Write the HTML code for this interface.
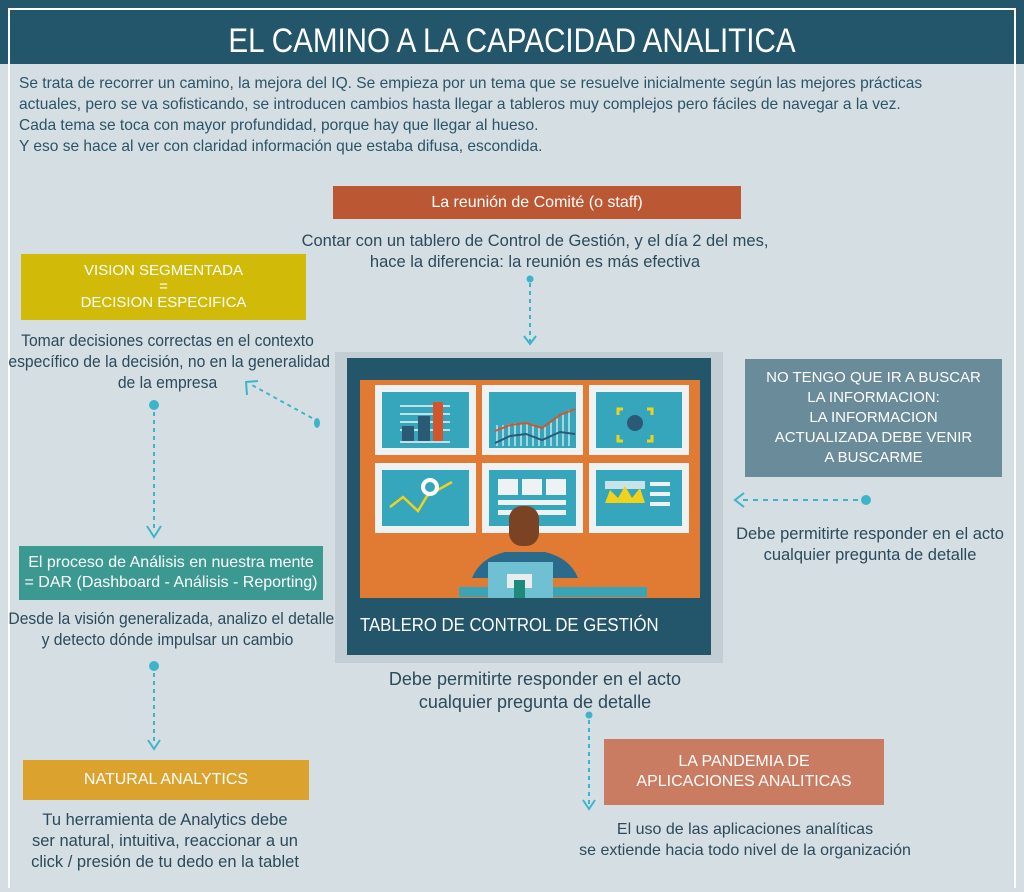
<!DOCTYPE html>
<html><head><meta charset="utf-8"><style>
body{margin:0;width:1024px;height:892px;background:#d5dee3;position:relative;overflow:hidden;font-family:"Liberation Sans",sans-serif;color:#2b4a5b}
.a{position:absolute}
.box{position:absolute;color:#fff;text-align:center;display:flex;align-items:center;justify-content:center;font-size:15px;line-height:20px}
.t{position:absolute;text-align:center;font-size:16.5px;line-height:21px;white-space:nowrap}
</style></head><body>
<div class="a" style="left:0;top:0;width:1024px;height:64px;background:#24566b"></div>
<div class="a" style="left:8px;top:8px;width:1004px;height:878px;border:2px solid #fff;border-bottom:none"></div>
<div class="a" style="left:0;top:16px;width:1024px;text-align:center;color:#fff;font-size:34px;line-height:50px;transform:scaleX(0.87)">EL CAMINO A LA CAPACIDAD ANALITICA</div>
<div class="a" style="left:19px;top:73px;font-size:16px;line-height:21px;color:#2b5468;white-space:nowrap;transform:scaleX(0.97);transform-origin:left top">Se trata de recorrer un camino, la mejora del IQ. Se empieza por un tema que se resuelve inicialmente según las mejores prácticas<br>actuales, pero se va sofisticando, se introducen cambios hasta llegar a tableros muy complejos pero fáciles de navegar a la vez.<br>Cada tema se toca con mayor profundidad, porque hay que llegar al hueso.<br>Y eso se hace al ver con claridad información que estaba difusa, escondida.</div>

<div class="box" style="left:333px;top:186px;width:408px;height:33px;background:#bb5732;font-size:16px">La reunión de Comité (o staff)</div>
<div class="t" style="left:280px;top:231px;width:510px">Contar con un tablero de Control de Gestión, y el día 2 del mes,<br>hace la diferencia: la reunión es más efectiva</div>

<div class="box" style="left:21px;top:254px;width:285px;height:66px;background:#d1ba08;line-height:16px">VISION SEGMENTADA<br>=<br>DECISION ESPECIFICA</div>
<div class="t" style="left:0;top:331px;width:335px;transform:scaleX(0.95)">Tomar decisiones correctas en el contexto<br>específico de la decisión, no en la generalidad<br>de la empresa</div>

<div class="box" style="left:745px;top:359px;width:257px;height:118px;background:#6a8b99;line-height:20px">NO TENGO QUE IR A BUSCAR<br>LA INFORMACION:<br>LA INFORMACION<br>ACTUALIZADA DEBE VENIR<br>A BUSCARME</div>
<div class="t" style="left:730px;top:524px;width:280px">Debe permitirte responder en el acto<br>cualquier pregunta de detalle</div>

<div class="box" style="left:19px;top:546px;width:304px;height:54px;background:#3c9992;font-size:16px">El proceso de Análisis en nuestra mente<br>= DAR (Dashboard - Análisis - Reporting)</div>
<div class="t" style="left:0;top:609px;width:335px;transform:scaleX(0.95)">Desde la visión generalizada, analizo el detalle<br>y detecto dónde impulsar un cambio</div>

<div class="box" style="left:23px;top:760px;width:286px;height:40px;background:#dca22e;font-size:16px">NATURAL ANALYTICS</div>
<div class="t" style="left:10px;top:810px;width:310px">Tu herramienta de Analytics debe<br>ser natural, intuitiva, reaccionar a un<br>click / presión de tu dedo en la tablet</div>

<div class="box" style="left:604px;top:739px;width:280px;height:66px;background:#c97c61;font-size:16px">LA PANDEMIA DE<br>APLICACIONES ANALITICAS</div>
<div class="t" style="left:570px;top:819px;width:350px;font-size:16px">El uso de las aplicaciones analíticas<br>se extiende hacia todo nivel de la organización</div>

<div class="t" style="left:360px;top:668px;width:350px;font-size:18px;line-height:23px">Debe permitirte responder en el acto<br>cualquier pregunta de detalle</div>

<!-- central image -->
<div class="a" style="left:335px;top:352px;width:388px;height:311px;background:#c3ced4"></div>
<div class="a" style="left:347px;top:358px;width:364px;height:297px;background:#24566b"></div>
<div class="a" style="left:360px;top:380px;width:340px;height:218px;background:#e17a33"></div>
<svg class="a" style="left:360px;top:380px" width="340" height="218">
<g fill="#eef2f3">
<rect x="15" y="5" width="101" height="70"/><rect x="122" y="5" width="101" height="70"/><rect x="229" y="5" width="100" height="70"/>
<rect x="15" y="83" width="101" height="70"/><rect x="122" y="83" width="101" height="70"/><rect x="229" y="83" width="100" height="70"/>
</g>
<g fill="#36a6bc">
<rect x="22" y="12" width="87" height="56"/><rect x="129" y="12" width="87" height="56"/><rect x="236" y="12" width="86" height="56"/>
<rect x="22" y="90" width="87" height="56"/><rect x="129" y="90" width="87" height="56"/><rect x="236" y="90" width="86" height="56"/>
</g>
<g stroke="#eef2f3" stroke-width="1.5"><line x1="40" y1="26" x2="90" y2="26"/><line x1="40" y1="34" x2="90" y2="34"/><line x1="40" y1="42" x2="90" y2="42"/><line x1="40" y1="50" x2="90" y2="50"/><line x1="40" y1="62" x2="90" y2="62"/></g>
<rect x="42" y="46" width="12" height="15" fill="#2a5a74"/><rect x="58" y="36" width="12" height="25" fill="#2a5a74"/><rect x="73" y="22" width="10" height="39" fill="#d4552b"/>
<g stroke="#eef2f3" stroke-width="1.2"><line x1="137" y1="45" x2="137" y2="66"/><line x1="143" y1="45" x2="143" y2="66"/><line x1="149" y1="44" x2="149" y2="66"/><line x1="155" y1="43" x2="155" y2="66"/><line x1="161" y1="43" x2="161" y2="66"/><line x1="167" y1="43" x2="167" y2="66"/><line x1="173" y1="44" x2="173" y2="66"/><line x1="179" y1="46" x2="179" y2="66"/><line x1="185" y1="46" x2="185" y2="66"/><line x1="191" y1="42" x2="191" y2="66"/><line x1="197" y1="36" x2="197" y2="66"/><line x1="203" y1="33" x2="203" y2="66"/><line x1="209" y1="30" x2="209" y2="66"/></g>
<polyline points="135,51 150,45 166,43 182,48 200,35 215,29" fill="none" stroke="#d4552b" stroke-width="2"/>
<polyline points="135,63 150,56 166,54 182,60 200,52 215,54" fill="none" stroke="#2a5a74" stroke-width="2"/>
<circle cx="275" cy="43" r="8" fill="#2a5a74"/>
<path d="M263 29h-5v6M287 29h5v6M263 61h-5v-6M287 61h5v-6" stroke="#f0d21b" stroke-width="3" fill="none"/>
<polyline points="30,127 43,117 58,131 67,116 92,102" fill="none" stroke="#f0d21b" stroke-width="2.5"/>
<circle cx="70" cy="107" r="7" fill="none" stroke="#fff" stroke-width="4"/>
<g fill="#eef2f3"><rect x="138" y="99" width="20" height="16"/><rect x="162" y="99" width="20" height="16"/><rect x="186" y="99" width="20" height="16"/><rect x="138" y="120" width="68" height="5"/><rect x="138" y="130" width="68" height="5"/></g>
<rect x="245" y="101" width="40" height="8" fill="#eef2f3" opacity=".8"/>
<polygon points="245,123 250,110 258,118 265,106 272,118 280,108 285,123" fill="#f0d21b"/>
<g fill="#eef2f3"><rect x="290" y="102" width="20" height="4"/><rect x="290" y="112" width="20" height="4"/><rect x="290" y="122" width="20" height="4"/></g>
<!-- person -->
<rect x="99" y="207" width="188" height="10" fill="#39a3b8"/>
<path d="M112 198 Q120 178 145 172 H185 Q210 178 218 198 Z" fill="#2a6a8a"/>
<rect x="128" y="182" width="65" height="36" fill="#6fc0d2"/>
<rect x="147" y="194" width="25" height="14" fill="#e8eef0"/><rect x="154" y="200" width="11" height="18" fill="#1f8a7c"/>
<rect x="149" y="126" width="30" height="40" rx="13" fill="#7a4424"/>
</svg>
<div class="a" style="left:360px;top:615px;color:#fff;font-size:18px;white-space:nowrap;transform:scaleX(0.93);transform-origin:left top">TABLERO DE CONTROL DE GESTIÓN</div>

<!-- connectors -->
<svg class="a" style="left:0;top:0" width="1024" height="892" fill="none" stroke="#3db5c9" stroke-width="2">
<circle cx="530" cy="279" r="3.5" fill="#3db5c9" stroke="none"/>
<line x1="530" y1="283" x2="530" y2="342" stroke-dasharray="4,4"/><polyline points="524,336 530,344 536,336"/>
<circle cx="154" cy="405" r="5" fill="#3db5c9" stroke="none"/>
<line x1="154" y1="412" x2="154" y2="532" stroke-dasharray="4,4"/><polyline points="147,526 154,537 161,526"/>
<ellipse cx="317" cy="423" rx="3" ry="5" fill="#3db5c9" stroke="none"/>
<line x1="312" y1="418" x2="250" y2="384" stroke-dasharray="4,4"/><polyline points="247,395 246,382 258,381"/>
<circle cx="866" cy="500" r="5" fill="#3db5c9" stroke="none"/>
<line x1="858" y1="500" x2="740" y2="500" stroke-dasharray="5,5"/><polyline points="744,493 735,500 744,507"/>
<circle cx="154" cy="666" r="5" fill="#3db5c9" stroke="none"/>
<line x1="154" y1="673" x2="154" y2="744" stroke-dasharray="4,4"/><polyline points="148,740 154,749 160,740"/>
<circle cx="589" cy="715" r="3.5" fill="#3db5c9" stroke="none"/>
<line x1="589" y1="720" x2="589" y2="805" stroke-dasharray="4,4"/><polyline points="583,800 589,809 595,800"/>
</svg>
</body></html>
